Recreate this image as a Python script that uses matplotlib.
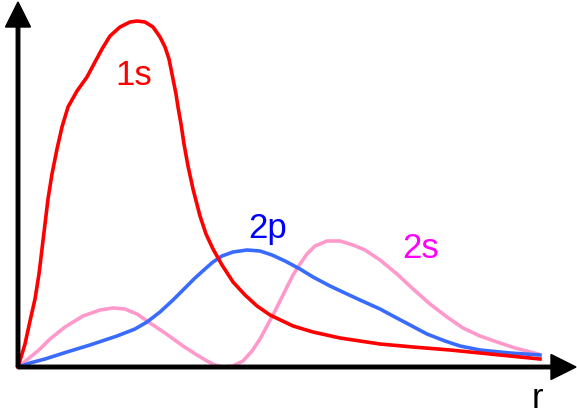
import matplotlib.pyplot as plt

# curves (x = distance r, y = probability), pixel-like units
r_1s = [0, 4, 7, 12, 17, 21, 24, 27, 30, 34, 39, 44, 50, 59, 69, 77, 84, 92, 102, 112,
        119, 127, 135, 142, 147, 151, 155, 158, 160, 163, 166, 170, 175, 182, 188, 195,
        204, 215, 227, 239, 252, 275, 295, 322, 362, 395, 432, 462, 492, 522]
p_1s = [0, 13, 23, 46, 68, 93, 118, 143, 168, 193, 218, 240, 260, 276, 290, 305, 318,
        331, 340, 345, 346, 345, 340, 330, 320, 308, 288, 273, 260, 243, 223, 201, 178,
        151, 133, 118, 102, 85, 72, 61, 52, 41, 35, 29, 23, 20, 17, 14, 11, 8]

r_2p = [0, 12, 27, 49, 72, 99, 117, 129, 142, 155, 167, 177, 187, 195, 204, 215, 229,
        242, 254, 267, 282, 295, 312, 329, 342, 362, 375, 392, 409, 427, 442, 462, 492, 522]
p_2p = [0, 4, 8, 15, 22, 31, 38, 45, 55, 67, 79, 89, 98, 105, 111, 115, 117, 116, 112,
        106, 98, 90, 81, 73, 67, 58, 51, 42, 33, 26, 21, 17, 14, 12]

r_2s = [0, 10, 22, 32, 47, 65, 82, 95, 107, 119, 132, 147, 165, 179, 189, 197, 205, 215,
        225, 234, 242, 249, 257, 265, 275, 282, 289, 297, 309, 322, 335, 347, 362, 379,
        395, 412, 429, 445, 462, 479, 497, 520]
p_2s = [0, 8, 18, 28, 40, 51, 57, 59, 58, 53, 44, 34, 21, 12, 6, 2, 0, 1, 6, 16, 28, 41,
        56, 72, 92, 103, 113, 121, 126, 126, 122, 117, 107, 93, 78, 63, 50, 39, 31, 25,
        19, 13]

labels = ['1s', '2p', '2s']
colors = ['#ff0000', '#3a6bff', '#ff99cc']
label_colors = ['#ff0000', '#0000ff', '#ff00ff']

fig = plt.figure(figsize=(5.77, 4.14), dpi=100)
ax = fig.add_axes([0, 0, 1, 1])
ax.set_xlim(-18, 559)
ax.set_ylim(-46, 368)
ax.axis('off')

ax.plot(r_2s, p_2s, color=colors[2], lw=2.6, solid_joinstyle='round', zorder=2)
ax.plot(r_2p, p_2p, color=colors[1], lw=2.6, solid_joinstyle='round', zorder=3)
ax.plot(r_1s, p_1s, color=colors[0], lw=2.6, solid_joinstyle='round', zorder=4)

# axes with arrow heads
ax.arrow(0, 0, 0, 365, width=3.5, head_width=25, head_length=25,
         length_includes_head=True, color='black', zorder=5)
ax.arrow(0, 0, 558, 0, width=3.5, head_width=25, head_length=25,
         length_includes_head=True, color='black', zorder=5)

font = dict(family='Liberation Sans', size=25)
ax.text(116, 283, labels[0], color=label_colors[0], ha='center', va='baseline', **font)
ax.text(250, 130, labels[1], color=label_colors[1], ha='center', va='baseline', **font)
ax.text(403, 110, labels[2], color=label_colors[2], ha='center', va='baseline', **font)
ax.text(519, -40, 'r', color='black', ha='center', va='baseline', **font)

plt.savefig('out.png', dpi=100)
plt.close()
